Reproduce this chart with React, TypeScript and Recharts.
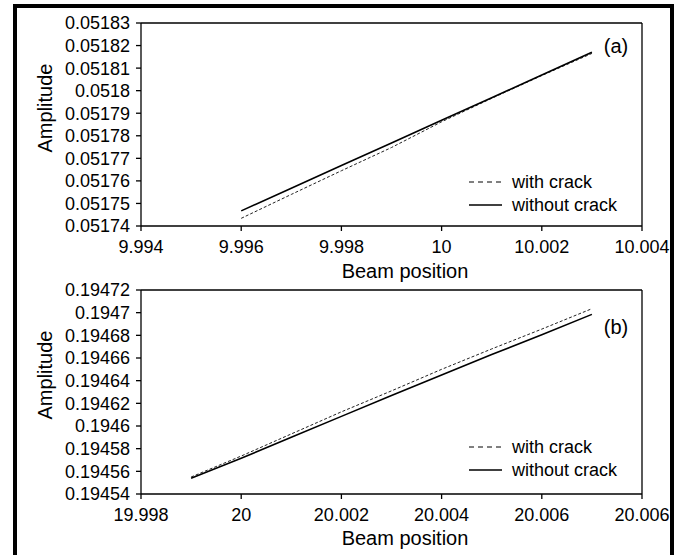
import React from "react";
import { LineChart, Line, XAxis, YAxis, Legend, ReferenceLine } from "recharts";

// panel (a): near beam position 10
const beamA = [9.996, 9.997, 9.998, 9.999, 10, 10.001, 10.002, 10.003];
const withCrackA = [0.0517434, 0.051754, 0.0517645, 0.0517748, 0.0517862, 0.0517966, 0.0518067, 0.0518165];
const withoutCrackA = [0.0517467, 0.0517567, 0.0517668, 0.0517768, 0.0517869, 0.0517969, 0.0518069, 0.051817];
const xTicksA = [9.994, 9.996, 9.998, 10, 10.002, 10.004];
const xTickLabelsA = ["9.994", "9.996", "9.998", "10", "10.002", "10.004"];
const yTicksA = [0.05174, 0.05175, 0.05176, 0.05177, 0.05178, 0.05179, 0.0518, 0.05181, 0.05182, 0.05183];
const yTickLabelsA = ["0.05174", "0.05175", "0.05176", "0.05177", "0.05178", "0.05179", "0.0518", "0.05181", "0.05182", "0.05183"];

// panel (b): near beam position 20
const beamB = [19.999, 20, 20.001, 20.002, 20.003, 20.004, 20.005, 20.006, 20.007];
const withCrackB = [0.194555, 0.1945735, 0.194593, 0.1946125, 0.194631, 0.19465, 0.194668, 0.1946855, 0.1947035];
const withoutCrackB = [0.194554, 0.1945715, 0.19459, 0.1946085, 0.194627, 0.194645, 0.194663, 0.1946805, 0.1946985];
const xTicksB = [19.998, 20, 20.002, 20.004, 20.006, 20.008];
const xTickLabelsB = ["19.998", "20", "20.002", "20.004", "20.006", "20.006"];
const yTicksB = [0.19454, 0.19456, 0.19458, 0.1946, 0.19462, 0.19464, 0.19466, 0.19468, 0.1947, 0.19472];
const yTickLabelsB = ["0.19454", "0.19456", "0.19458", "0.1946", "0.19462", "0.19464", "0.19466", "0.19468", "0.1947", "0.19472"];

const seriesNames = ["with crack", "without crack"];

const FONT = '"Liberation Sans", Arial, sans-serif';

const dataA = beamA.map((x, i) => ({ x, withCrack: withCrackA[i], withoutCrack: withoutCrackA[i] }));
const dataB = beamB.map((x, i) => ({ x, withCrack: withCrackB[i], withoutCrack: withoutCrackB[i] }));

function makeLegend() {
  return () => (
    <svg width={190} height={50} style={{ display: "block" }}>
      <line x1={2} x2={35} y1={12} y2={12} stroke="#000" strokeWidth={1} strokeDasharray="5 4" />
      <text x={45} y={18} fontSize={18} fill="#000" fontFamily={FONT}>{seriesNames[0]}</text>
      <line x1={2} x2={35} y1={35} y2={35} stroke="#000" strokeWidth={1.5} />
      <text x={45} y={41} fontSize={18} fill="#000" fontFamily={FONT}>{seriesNames[1]}</text>
    </svg>
  );
}

interface PanelProps {
  data: { x: number; withCrack: number; withoutCrack: number }[];
  xTicks: number[];
  xLabels: string[];
  yTicks: number[];
  yLabels: string[];
  tag: string;
  tagY: number;
  legendTop: number;
  height: number;
  xAxisHeight: number;
}

function Panel({ data, xTicks, xLabels, yTicks, yLabels, tag, tagY, legendTop, height, xAxisHeight }: PanelProps) {
  const xDomain = [xTicks[0], xTicks[xTicks.length - 1]];
  const yDomain = [yTicks[0], yTicks[yTicks.length - 1]];
  return (
    <LineChart width={681} height={height} data={data} margin={{ top: 23, right: 39, left: 0, bottom: 0 }}>
      <XAxis
        dataKey="x"
        type="number"
        domain={xDomain}
        ticks={xTicks}
        interval={0}
        allowDataOverflow
        tickFormatter={(v: number) => xLabels[xTicks.indexOf(v)] ?? String(v)}
        tick={{ fontSize: 18, fill: "#000", fontFamily: FONT }}
        tickSize={5}
        tickMargin={9}
        height={xAxisHeight}
        axisLine={{ stroke: "#000", strokeWidth: 1.3 }}
        tickLine={{ stroke: "#000", strokeWidth: 1.3 }}
        label={{
          content: () => (
            <g>
              <text x={405} y={271} textAnchor="middle" dominantBaseline="central" fontSize={20} fill="#000" fontFamily={FONT}>
                Beam position
              </text>
              <text x={616} y={tagY} textAnchor="middle" dominantBaseline="central" fontSize={20} fill="#000" fontFamily={FONT}>
                {tag}
              </text>
            </g>
          ),
        }}
      />
      <YAxis
        type="number"
        domain={yDomain}
        ticks={yTicks}
        interval={0}
        allowDataOverflow
        tickFormatter={(v: number) => yLabels[yTicks.indexOf(v)] ?? String(v)}
        tick={{ fontSize: 18, fill: "#000", fontFamily: FONT }}
        tickSize={5}
        tickMargin={6}
        width={141}
        axisLine={{ stroke: "#000", strokeWidth: 1.3 }}
        tickLine={{ stroke: "#000", strokeWidth: 1.3 }}
        label={{
          content: () => (
            <text
              x={45}
              y={108}
              transform="rotate(-90 45 108)"
              textAnchor="middle"
              dominantBaseline="central"
              fontSize={20}
              fill="#000"
              fontFamily={FONT}
            >
              Amplitude
            </text>
          ),
        }}
      />
      {/* plot frame: top and right edges */}
      <ReferenceLine y={yDomain[1]} stroke="#000" strokeWidth={1.3} />
      <ReferenceLine x={xDomain[1]} stroke="#000" strokeWidth={1.3} />
      <Legend
        layout="vertical"
        align="center"
        verticalAlign="middle"
        content={makeLegend()}
        wrapperStyle={{ left: 467, top: legendTop, width: 190, height: 50 }}
      />
      <Line
        dataKey="withCrack"
        name={seriesNames[0]}
        stroke="#222"
        strokeWidth={1}
        strokeDasharray="3 2"
        dot={false}
        isAnimationActive={false}
      />
      <Line
        dataKey="withoutCrack"
        name={seriesNames[1]}
        stroke="#000"
        strokeWidth={1.6}
        dot={false}
        isAnimationActive={false}
      />
    </LineChart>
  );
}

export default function App() {
  return (
    <div
      style={{
        position: "absolute",
        left: 0,
        top: 0,
        width: 681,
        height: 555,
        overflow: "hidden",
        background: "#fff",
        fontFamily: FONT,
      }}
    >
      <div
        style={{
          position: "absolute",
          left: 13,
          top: 4,
          width: 653,
          height: 600,
          border: "4px solid #000",
        }}
      />
      <div style={{ position: "absolute", left: 0, top: 0 }}>
        <Panel
          data={dataA}
          xTicks={xTicksA}
          xLabels={xTickLabelsA}
          yTicks={yTicksA}
          yLabels={yTickLabelsA}
          tag="(a)"
          tagY={46}
          legendTop={170}
          height={290}
          xAxisHeight={64}
        />
      </div>
      <div style={{ position: "absolute", left: 0, top: 267 }}>
        <Panel
          data={dataB}
          xTicks={xTicksB}
          xLabels={xTickLabelsB}
          yTicks={yTicksB}
          yLabels={yTickLabelsB}
          tag="(b)"
          tagY={60}
          legendTop={168}
          height={288}
          xAxisHeight={61}
        />
      </div>
    </div>
  );
}
